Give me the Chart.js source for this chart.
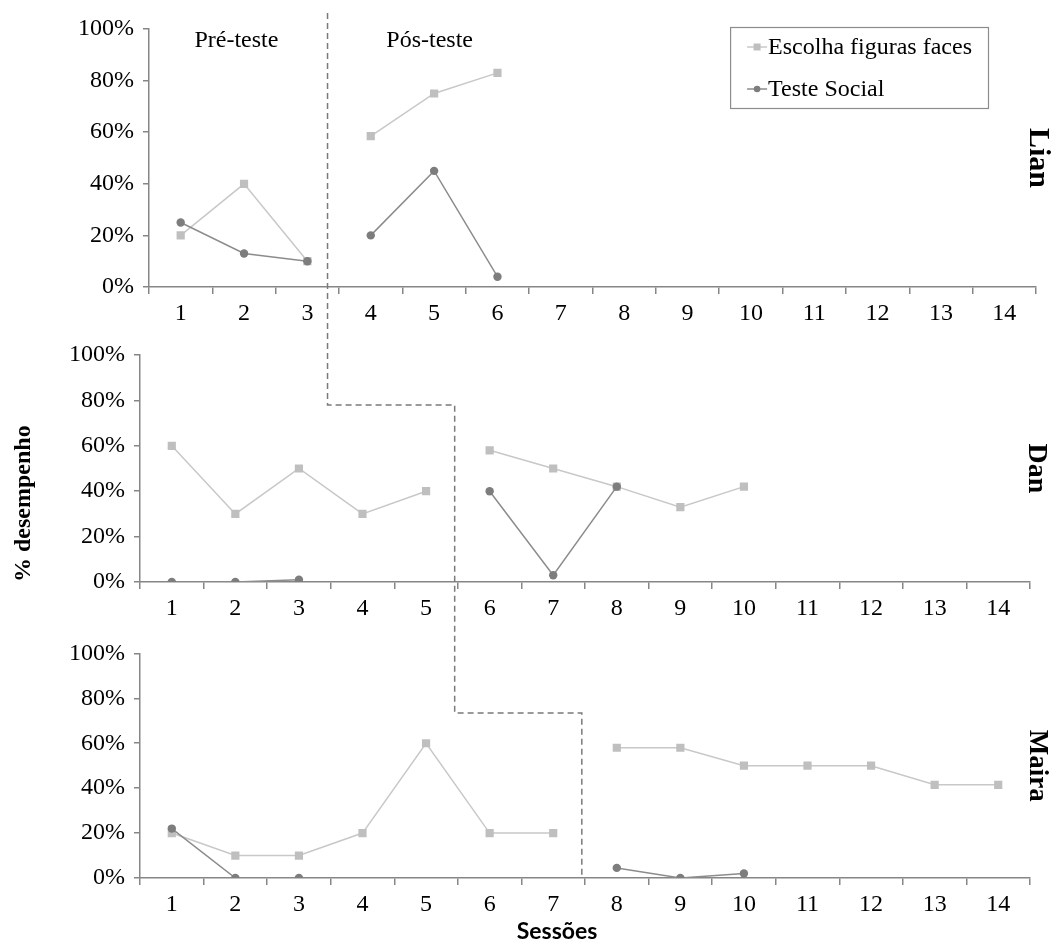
<!DOCTYPE html>
<html>
<head>
<meta charset="utf-8">
<script src="https://cdn.jsdelivr.net/npm/chart.js"></script>
<style>
  body { margin: 0; background: #fff; }
  #wrap { position: relative; width: 1056px; height: 942px; }
  #wrap canvas { position: absolute; left: 0; }
</style>
</head>
<body>
<div id="wrap">
  <canvas id="lian" style="top:0px"></canvas>
  <canvas id="dan" style="top:330px"></canvas>
  <canvas id="maira" style="top:630px"></canvas>
  <canvas id="phases" style="top:0px; pointer-events:none"></canvas>
</div>
<script>
// sessions on the x axis
var sessions = ['1', '2', '3', '4', '5', '6', '7', '8', '9', '10', '11', '12', '13', '14'];
var seriesNames = ['Escolha figuras faces', 'Teste Social'];

// % correct per session (null = no session)
var lianEscolha  = [20, 40, 10, 58.5, 75, 83, null, null, null, null, null, null, null, null];
var lianSocial   = [25, 13, 10, 20, 45, 4, null, null, null, null, null, null, null, null];
var danEscolha   = [60, 30, 50, 30, 40, 58, 50, 42, 33, 42, null, null, null, null];
var danSocial    = [0, 0, 1, null, null, 40, 3, 42, null, null, null, null, null, null];
var mairaEscolha = [20, 10, 10, 20, 60, 20, 20, 58, 58, 50, 50, 50, 41.5, 41.5];
var mairaSocial  = [22, 0, 0, null, null, null, null, 4.5, 0, 2, null, null, null, null];

// first session of the post-test phase
var lianStart = 4, danStart = 6, mairaStart = 8;

var serif = '"Liberation Serif", "Times New Roman", serif';
var axisGray = '#868686';

function hideAcross(start) {
  return function(ctx) {
    return ctx.p1DataIndex === start - 1 ? 'rgba(0,0,0,0)' : undefined;
  };
}

function makeChart(id, o) {
  var canvas = document.getElementById(id);
  canvas.width = 1056;
  canvas.height = o.height;
  var scales = {
    x: {
      offset: true,
      grid: { offset: true, drawOnChartArea: false, tickLength: 7, color: axisGray, lineWidth: 1.5 },
      border: { color: axisGray, width: 1.5 },
      ticks: { color: '#000', font: { family: serif, size: 24 }, padding: 5, maxRotation: 0, autoSkip: false },
      afterFit: function(s) { s.height = o.bottom; }
    },
    y: {
      min: 0, max: 100,
      grid: { drawOnChartArea: false, tickLength: 6, color: axisGray, lineWidth: 1.5 },
      border: { color: axisGray, width: 1.5 },
      ticks: { stepSize: 20, color: '#000', font: { family: serif, size: 24 }, padding: 9,
               callback: function(v) { return v + '%'; } },
      title: o.yTitle ? { display: true, text: o.yTitle, align: 'start', color: '#000', font: { family: serif, size: 24, weight: 'bold' }, padding: { top: 9 } } : { display: false },
      afterFit: function(s) { s.width = o.left; }
    },
    yR: {
      position: 'right',
      grid: { display: false },
      border: { display: false },
      ticks: { display: false },
      title: { display: true, text: o.name, color: '#000', font: { family: serif, size: o.nameSize, weight: 'bold' }, padding: { top: o.namePad } },
      afterFit: function(s) { s.width = o.right; }
    }
  };
  return new Chart(canvas, {
    type: 'line',
    data: {
      labels: sessions,
      datasets: [
        { label: seriesNames[0], data: o.escolha, order: 1,
          borderColor: '#c8c8c8', borderWidth: 1.5,
          pointStyle: 'rect', pointRadius: 5.8, pointBorderWidth: 0,
          pointBackgroundColor: '#bfbfbf', pointBorderColor: '#bfbfbf',
          segment: { borderColor: hideAcross(o.start) } },
        { label: seriesNames[1], data: o.social, order: 0,
          borderColor: '#8c8c8c', borderWidth: 1.5,
          pointStyle: 'circle', pointRadius: 4.2, pointBorderWidth: 0,
          pointBackgroundColor: '#7d7d7d', pointBorderColor: '#7d7d7d',
          segment: { borderColor: hideAcross(o.start) } }
      ]
    },
    options: {
      responsive: false,
      animation: false,
      layout: { padding: { top: o.top, left: 0, right: 0, bottom: 0 } },
      plugins: { legend: { display: false }, tooltip: { enabled: false } },
      scales: scales
    },
    plugins: o.plugins || []
  });
}

// phase names + boxed legend for the top panel
var lianExtras = {
  id: 'lianExtras',
  afterDraw: function(chart) {
    var ctx = chart.ctx, ca = chart.chartArea, x = chart.scales.x;
    ctx.save();
    ctx.font = '24px ' + serif;
    ctx.fillStyle = '#000';
    ctx.textAlign = 'center';
    ctx.textBaseline = 'middle';
    ctx.fillText('Pré-teste', x.getPixelForValue(0.88), ca.top + 12);
    ctx.fillText('Pós-teste', x.getPixelForValue(3.93), ca.top + 12);

    var ds = chart.data.datasets;
    var tw = 0;
    ds.forEach(function(d) { tw = Math.max(tw, ctx.measureText(d.label).width); });
    var boxW = 17 + 20 + 1 + tw + 16, boxH = 81;
    var right = ca.right - 48, left = right - boxW, top = ca.top - 2;
    ctx.strokeStyle = '#8c8c8c';
    ctx.lineWidth = 1.2;
    ctx.strokeRect(left + 0.5, top + 0.5, boxW, boxH);
    ctx.textAlign = 'left';
    ds.forEach(function(d, i) {
      var y = top + 20 + i * 42;
      var mx = left + 27;
      ctx.strokeStyle = d.borderColor;
      ctx.lineWidth = 1.5;
      ctx.beginPath(); ctx.moveTo(left + 17, y); ctx.lineTo(left + 37, y); ctx.stroke();
      ctx.fillStyle = d.pointBackgroundColor;
      if (d.pointStyle === 'rect') {
        ctx.fillRect(mx - 3.5, y - 3.5, 7, 7);
      } else {
        ctx.beginPath(); ctx.arc(mx, y, 3.3, 0, Math.PI * 2); ctx.fill();
      }
      ctx.fillStyle = '#000';
      ctx.fillText(d.label, left + 38, y + 1);
    });
    ctx.restore();
  }
};

// x-axis caption under the bottom panel
var sessionsTitle = {
  id: 'sessionsTitle',
  afterDraw: function(chart) {
    var ctx = chart.ctx;
    ctx.save();
    ctx.font = 'bold 23px Lato, "Open Sans", sans-serif';
    ctx.fillStyle = '#000';
    ctx.textAlign = 'center';
    ctx.textBaseline = 'middle';
    ctx.fillText('Sessões', chart.scales.x.getPixelForValue(6.06), chart.height - 10);
    ctx.restore();
  }
};

var lian = makeChart('lian', { height: 330, top: 29, bottom: 43, left: 149, right: 20, namePad: 0, nameSize: 30,
  name: 'Lian', escolha: lianEscolha, social: lianSocial, start: lianStart, plugins: [lianExtras] });
var dan = makeChart('dan', { height: 300, top: 25, bottom: 48, left: 140, right: 26, namePad: 3, nameSize: 28,
  name: 'Dan', yTitle: '% desempenho', escolha: danEscolha, social: danSocial, start: danStart });
var maira = makeChart('maira', { height: 312, top: 21, bottom: 64, left: 140, right: 26, namePad: 3, nameSize: 27,
  name: 'Maira', escolha: mairaEscolha, social: mairaSocial, start: mairaStart, plugins: [sessionsTitle] });

// stepped dashed phase-change line across the three panels
(function() {
  var ov = document.getElementById('phases');
  ov.width = 1056; ov.height = 942;
  var g = ov.getContext('2d');
  var offD = 330, offM = 630;
  var xa = dan.scales.x.getPixelForValue(lianStart - 1.55);
  var xb = dan.scales.x.getPixelForValue(danStart - 1.55);
  var xc = maira.scales.x.getPixelForValue(mairaStart - 1.55);
  var y0 = lian.chartArea.top - 16;
  var y1 = offD + dan.scales.y.getPixelForValue(78);
  var y2 = offM + maira.scales.y.getPixelForValue(73.5);
  var y3 = offM + maira.scales.y.getPixelForValue(0);
  g.strokeStyle = '#7a7a7a';
  g.lineWidth = 1.5;
  g.setLineDash([6, 4]);
  g.beginPath();
  g.moveTo(xa, y0);
  g.lineTo(xa, y1);
  g.lineTo(xb, y1);
  g.lineTo(xb, y2);
  g.lineTo(xc, y2);
  g.lineTo(xc, y3);
  g.stroke();
})();
</script>
</body>
</html>
